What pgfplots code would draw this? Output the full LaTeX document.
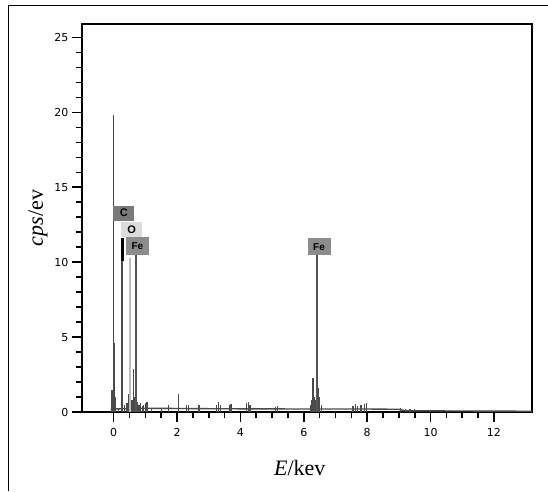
\documentclass[border=0pt]{standalone}
\usepackage{fontspec}
\setmainfont{Liberation Serif}
\newfontfamily\ticksf{DejaVu Sans}
\newfontfamily\boxsf{Liberation Sans}
\usepackage{pgfplots}
\usepackage{pgfplotstable}
\pgfplotsset{compat=1.18}
\definecolor{spec}{HTML}{4A4A4A}
\definecolor{oline}{HTML}{BDBDBD}
\definecolor{feline}{HTML}{555555}
\definecolor{cbox}{HTML}{7A7A7A}
\definecolor{obox}{HTML}{DCDCDC}
\definecolor{febox}{HTML}{8C8C8C}
\pgfplotstableread{
E h
-0.05 1.5
0.00 19.8
0.02 4.6
0.05 1.0
0.15 0.3
0.35 0.5
0.42 0.6
0.47 1.2
0.58 0.8
0.62 2.9
0.66 1.0
0.75 0.7
0.80 0.5
0.85 0.6
0.90 0.4
0.95 0.5
1.00 0.6
1.05 0.7
1.20 0.3
1.50 0.3
1.73 0.45
2.05 1.2
2.30 0.5
2.35 0.5
2.69 0.5
3.25 0.5
3.31 0.65
3.37 0.5
3.65 0.5
3.70 0.55
4.20 0.6
4.25 0.65
4.30 0.5
5.10 0.35
5.18 0.4
6.20 0.5
6.25 0.8
6.29 2.3
6.33 1.0
6.37 0.8
6.46 1.6
6.50 1.0
6.55 0.5
7.55 0.4
7.62 0.55
7.70 0.4
7.80 0.45
7.92 0.55
7.98 0.6
9.06 0.3
9.20 0.2
9.35 0.22
9.50 0.2
10.00 0.15
10.60 0.15
}\spectrum
\pgfplotstableread{
E h
-0.1 0.2
1.0 0.25
3.0 0.22
6.0 0.2
8.0 0.2
9.0 0.18
9.2 0.08
13.2 0.05
}\baseline
\begin{document}
\begin{tikzpicture}
\useasboundingbox (0pt,0pt) rectangle (548pt,491pt);
\draw[line width=1pt] (8pt,0pt) -- (8pt,485pt) -- (548pt,485pt);
\begin{axis}[at={(82pt,79pt)}, anchor=south west,
  width=450pt, height=388pt, scale only axis,
  xmin=-1, xmax=13.2, ymin=0, ymax=25.9,
  xtick={0,2,...,12}, ytick={0,5,...,25},
  minor x tick num=3, minor y tick num=4,
  tick align=outside, xtick pos=bottom, ytick pos=left,
  major tick length=10pt, minor tick length=6pt,
  axis line style={line width=1.2pt},
  tick style={draw=black, line width=1.6pt},
  /pgf/number format/assume math mode=true,
  tick label style={font=\ticksf\fontsize{11}{13}\selectfont},
  xticklabel style={yshift=-3pt},
  xlabel={\textit{E}/kev}, ylabel={\textit{cps}/ev},
  label style={font=\fontsize{22}{25}\selectfont},
  xlabel style={at={(axis description cs:0.484,-0.144)}, anchor=center},
  ylabel style={at={(axis description cs:-0.098,0.5)}, anchor=center},
  clip=false]
\addplot[spec, line width=1.4pt] table[x=E,y=h] {\baseline};
\addplot[ycomb, spec, line width=1.3pt] table[x=E,y=h] {\spectrum};
% labelled peaks
\addplot[ycomb, spec, line width=1.6pt] coordinates {(0.27,11.6)};
\addplot[black, line width=2.8pt] coordinates {(0.27,10.1) (0.27,11.6)};
\addplot[ycomb, oline, line width=1.6pt] coordinates {(0.52,10.3)};
\addplot[ycomb, feline, line width=1.7pt] coordinates {(0.70,10.5)};
\addplot[ycomb, feline, line width=1.7pt] coordinates {(6.41,10.5)};
% label boxes
\node[fill=cbox, minimum width=21pt, minimum height=15pt, inner sep=0pt,
  font=\boxsf\bfseries\fontsize{11}{11}\selectfont] at (axis cs:0.32,13.27) {C};
\node[fill=obox, minimum width=21pt, minimum height=15pt, inner sep=0pt,
  font=\boxsf\bfseries\fontsize{11}{11}\selectfont] at (axis cs:0.57,12.2) {O};
\node[fill=febox, minimum width=23pt, minimum height=18pt, inner sep=0pt,
  font=\boxsf\bfseries\fontsize{10}{10}\selectfont] at (axis cs:0.75,11.07) {Fe};
\node[fill=febox, minimum width=23pt, minimum height=17pt, inner sep=0pt,
  font=\boxsf\bfseries\fontsize{10}{10}\selectfont] at (axis cs:6.48,11.03) {Fe};
\end{axis}
\end{tikzpicture}
\end{document}
